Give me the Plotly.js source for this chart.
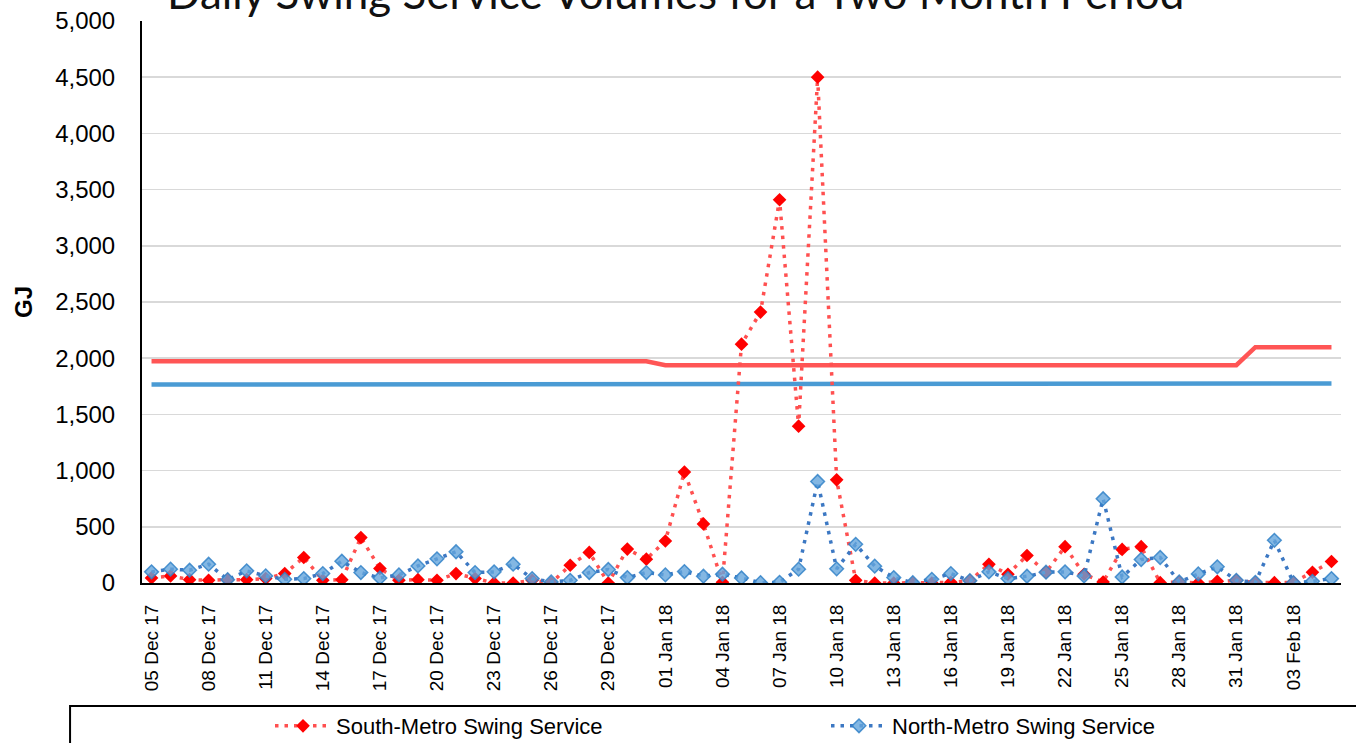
<!DOCTYPE html>
<html>
<head>
<meta charset="utf-8">
<script src="https://cdn.plot.ly/plotly-3.0.1.min.js"></script>
<style>html,body{margin:0;padding:0;background:#fff;}#chart{width:1356px;height:743px;}</style>
</head>
<body>
<div id="chart"></div>
<script>
const dates = [
 '2017-12-05','2017-12-06','2017-12-07','2017-12-08','2017-12-09','2017-12-10','2017-12-11','2017-12-12','2017-12-13','2017-12-14',
 '2017-12-15','2017-12-16','2017-12-17','2017-12-18','2017-12-19','2017-12-20','2017-12-21','2017-12-22','2017-12-23','2017-12-24',
 '2017-12-25','2017-12-26','2017-12-27','2017-12-28','2017-12-29','2017-12-30','2017-12-31','2018-01-01','2018-01-02','2018-01-03',
 '2018-01-04','2018-01-05','2018-01-06','2018-01-07','2018-01-08','2018-01-09','2018-01-10','2018-01-11','2018-01-12','2018-01-13',
 '2018-01-14','2018-01-15','2018-01-16','2018-01-17','2018-01-18','2018-01-19','2018-01-20','2018-01-21','2018-01-22','2018-01-23',
 '2018-01-24','2018-01-25','2018-01-26','2018-01-27','2018-01-28','2018-01-29','2018-01-30','2018-01-31','2018-02-01','2018-02-02',
 '2018-02-03','2018-02-04','2018-02-05'
];
const southSwing = [
 45,63,30,24,30,30,39,84,227,24,
 30,404,129,24,30,24,84,39,0,0,
 24,0,158,272,0,302,212,374,987,526,
 6,2125,2410,3410,1395,4500,918,24,0,0,
 0,0,6,21,167,78,245,96,323,78,
 9,299,323,3,9,0,15,24,3,3,
 6,96,191
];
const northSwing = [
 99,123,114,167,30,108,63,33,39,84,
 194,93,45,72,152,215,278,93,99,167,
 39,9,24,93,120,48,93,72,102,60,
 78,45,3,6,123,903,126,344,150,48,
 3,33,84,21,99,39,60,96,99,63,
 750,54,209,227,9,81,144,24,6,380,
 3,15,39
];
const southLimit = [
 1973,1973,1973,1973,1973,1973,1973,1973,1973,1973,
 1973,1973,1973,1973,1973,1973,1973,1973,1973,1973,
 1973,1973,1973,1973,1973,1973,1973,1938,1938,1938,
 1938,1938,1938,1938,1938,1938,1938,1938,1938,1938,
 1938,1938,1938,1938,1938,1938,1938,1938,1938,1938,
 1938,1938,1938,1938,1938,1938,1938,1938,2098,2098,
 2098,2098,2098
];
const northLimit = [
 1766,1766,1766,1766,1766,1766,1766,1766,1766,1766,
 1766,1766,1766,1766,1766,1766,1766,1766,1766,1766,
 1766,1766,1766,1766,1766,1766,1766,1766,1766,1766,
 1766,1766,1766,1766,1766,1766,1766,1766,1766,1766,
 1766,1766,1766,1766,1766,1766,1766,1766,1766,1766,
 1766,1766,1766,1766,1766,1766,1766,1766,1776,1776,
 1776,1776,1776
];
const seriesNames = ['South-Metro Swing Service','North-Metro Swing Service'];
const chartTitle = 'Daily Swing Service Volumes for a Two Month Period';
const yTitle = 'GJ';

const traces = [
 {x: dates, y: southLimit, type:'scatter', mode:'lines', showlegend:false, hoverinfo:'skip',
  line:{color:'rgb(255,85,85)', width:4.5}},
 {x: dates, y: northLimit, type:'scatter', mode:'lines', showlegend:false, hoverinfo:'skip',
  line:{color:'rgb(74,155,212)', width:4.5}},
 {x: dates, y: southSwing, type:'scatter', mode:'lines+markers', name: seriesNames[0], legend:'legend',
  line:{color:'rgb(255,80,80)', width:3.5, dash:'3.5px,6px'},
  marker:{symbol:'diamond', size:10.5, color:'#ff0000', line:{width:0}}},
 {x: dates, y: northSwing, type:'scatter', mode:'lines+markers', name: seriesNames[1], legend:'legend2',
  line:{color:'rgb(60,120,195)', width:3.5, dash:'3.5px,6px'},
  marker:{symbol:'diamond', size:10.5, color:'rgba(100,165,220,0.8)', line:{width:1.5, color:'rgba(50,130,200,0.85)'}}}
];

const legendBase = {orientation:'h', xref:'container', yref:'container', xanchor:'left', y:1-705/743, yanchor:'top',
   font:{size:22, family:'Liberation Sans, Arial, sans-serif'},
   bgcolor:'rgba(0,0,0,0)', borderwidth:0, itemwidth:56};

const layout = {
 width:1356, height:743,
 margin:{l:142, r:15, t:21, b:160, autoexpand:false},
 paper_bgcolor:'#fff', plot_bgcolor:'#fff',
 font:{family:'Liberation Sans, Arial, sans-serif', color:'#000'},
 showlegend:true,
 legend:Object.assign({}, legendBase, {x:270/1356}),
 legend2:Object.assign({}, legendBase, {x:826/1356}),
 xaxis:{type:'date', range:['2017-12-04 12:00','2018-02-05 12:00'], automargin:false,
   tick0:'2017-12-05', dtick:3*86400000, tickformat:'%d %b %y', tickangle:-90,
   tickfont:{size:19}, showgrid:false, showline:true, linecolor:'#000', linewidth:2,
   ticks:'', ticklabelstandoff:12, zeroline:false, fixedrange:true},
 yaxis:{range:[0,5000], dtick:500, tickformat:',d', tickfont:{size:24}, automargin:false,
   showgrid:true, gridcolor:'#d9d9d9', gridwidth:1.5, showline:true, linecolor:'#000', linewidth:2,
   ticks:'', ticklabelstandoff:20, zeroline:false, fixedrange:true,
   title:{text:yTitle, font:{size:24, family:'Liberation Sans, Arial, sans-serif', weight:'bold'}, standoff:16}},
 annotations:[
  {text:chartTitle, xref:'paper', yref:'paper', x:0.445, y:1.051, xanchor:'center', yanchor:'middle',
   showarrow:false, font:{family:'Lato, sans-serif', size:44, color:'#111'}}
 ],
 shapes:[
  {type:'rect', xref:'paper', yref:'paper', x0:-0.06, x1:1.03, y0:-0.2189, y1:-0.33,
   line:{color:'#000', width:2}, fillcolor:'rgba(0,0,0,0)', layer:'above'}
 ]
};

Plotly.newPlot('chart', traces, layout, {displayModeBar:false, staticPlot:true});
</script>
</body>
</html>
